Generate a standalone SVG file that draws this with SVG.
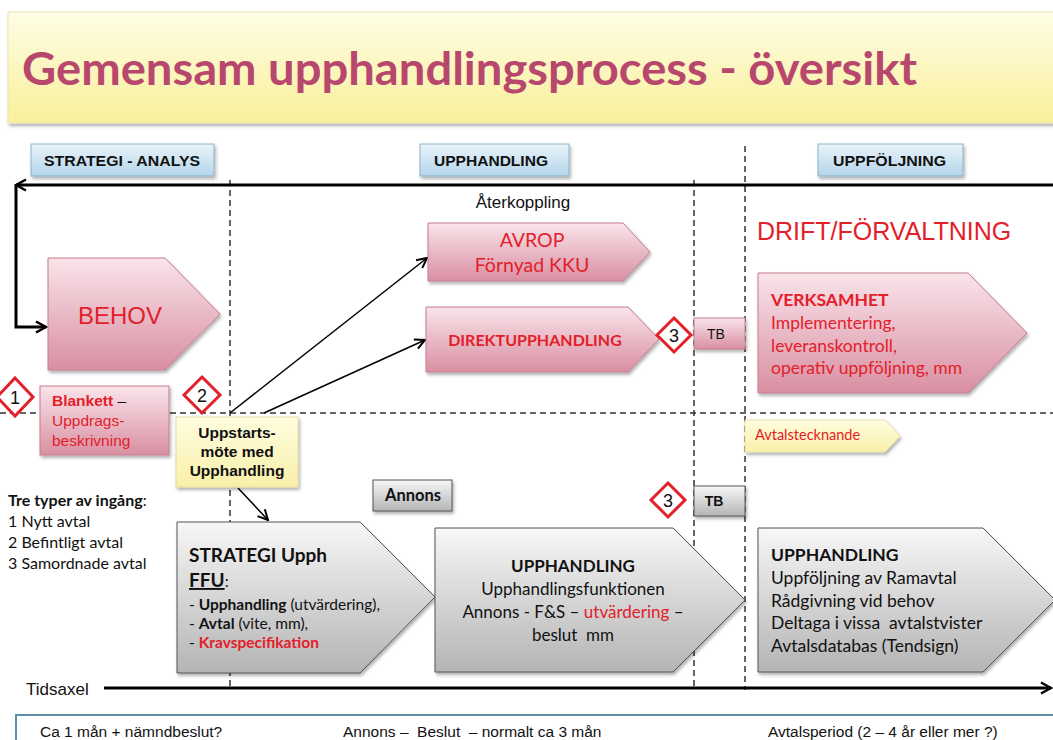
<svg xmlns="http://www.w3.org/2000/svg" width="1053" height="740" viewBox="0 0 1053 740">
<defs>
<linearGradient id="gBanner" x1="0" y1="0" x2="0" y2="1"><stop offset="0" stop-color="#fefde6"/><stop offset="1" stop-color="#f9f09a"/></linearGradient>
<linearGradient id="gBlue" x1="0" y1="0" x2="0" y2="1"><stop offset="0" stop-color="#eaf4fa"/><stop offset="1" stop-color="#b3d5ea"/></linearGradient>
<linearGradient id="gPink" x1="0" y1="0" x2="0" y2="1"><stop offset="0" stop-color="#f9e4ea"/><stop offset="1" stop-color="#d98fa2"/></linearGradient>
<linearGradient id="gGray" x1="0" y1="0" x2="0" y2="1"><stop offset="0" stop-color="#f7f7f7"/><stop offset="1" stop-color="#b4b4b4"/></linearGradient>
<linearGradient id="gYel" x1="0" y1="0" x2="0" y2="1"><stop offset="0" stop-color="#fffde0"/><stop offset="1" stop-color="#f8f0a8"/></linearGradient>
<filter id="sh" x="-10%" y="-10%" width="130%" height="140%"><feDropShadow dx="1.5" dy="2.5" stdDeviation="1.5" flood-color="#000" flood-opacity="0.3"/></filter>
<marker id="chev" viewBox="0 0 12 12" refX="11" refY="6" markerWidth="12" markerHeight="12" markerUnits="userSpaceOnUse" orient="auto"><path d="M1,1 L11,6 L1,11" fill="none" stroke="#000" stroke-width="2"/></marker>
<marker id="chevB" viewBox="0 0 14 14" refX="12" refY="7" markerWidth="14" markerHeight="14" markerUnits="userSpaceOnUse" orient="auto"><path d="M2,1.5 L12,7 L2,12.5" fill="none" stroke="#000" stroke-width="2.5"/></marker>
</defs>
<style>
.cal{font-family:Lato,"Open Sans","Noto Sans",sans-serif}
.ar{font-family:"Liberation Sans",Arial,sans-serif}
.red{fill:#e3202a}
.b{font-weight:bold}
.pre{white-space:pre}
.pink{fill:url(#gPink);stroke:#c57d8e;stroke-width:1}
.gray{fill:url(#gGray);stroke:#555;stroke-width:1}
.blue{fill:url(#gBlue);stroke:#8cb3c9;stroke-width:1}
.dash{stroke:#333;stroke-width:1.5;stroke-dasharray:6 4;fill:none}
.conn{stroke:#000;fill:none}
.dia{fill:#fff;stroke:#e3202a;stroke-width:3}
.hd{font-family:"Liberation Sans",Arial,sans-serif;font-weight:bold;font-size:14px;fill:#111}
</style>

<g id="banner">
<rect x="8" y="12" width="1050" height="111" fill="url(#gBanner)" stroke="#eee6b0" filter="url(#sh)"/>
<text x="22" y="85" class="cal b" font-size="45" fill="#b8476e" textLength="895" lengthAdjust="spacingAndGlyphs">Gemensam upphandlingsprocess - översikt</text>
</g>

<g id="headers">
<g id="h-strategi"><rect x="31" y="144" width="183" height="32" class="blue" filter="url(#sh)"/><text x="44" y="166" class="hd" textLength="156" lengthAdjust="spacingAndGlyphs">STRATEGI - ANALYS</text></g>
<g id="h-upphandling"><rect x="420" y="144" width="149" height="32" class="blue" filter="url(#sh)"/><text x="434" y="166" class="hd" textLength="114" lengthAdjust="spacingAndGlyphs">UPPHANDLING</text></g>
<g id="h-uppfoljning"><rect x="818" y="144" width="145" height="32" class="blue" filter="url(#sh)"/><text x="833" y="166" class="hd" textLength="113" lengthAdjust="spacingAndGlyphs">UPPFÖLJNING</text></g>
</g>

<g id="gridlines">
<line x1="230" y1="180" x2="230" y2="690" class="dash"/>
<line x1="694" y1="180" x2="694" y2="690" class="dash"/>
<line x1="745" y1="146" x2="745" y2="690" class="dash"/>
<line x1="0" y1="413" x2="1053" y2="413" class="dash"/>
</g>

<g id="connectors">
<line x1="1053" y1="185" x2="16" y2="185" stroke="#000" stroke-width="3" marker-end="url(#chevB)"/>
<polyline points="16,186 16,327 46,327" stroke="#000" stroke-width="3" fill="none" marker-end="url(#chevB)"/>
<line x1="230" y1="413" x2="427" y2="258" class="conn" stroke-width="1.5" marker-end="url(#chev)"/>
<line x1="264" y1="413" x2="425" y2="340" class="conn" stroke-width="1.5" marker-end="url(#chev)"/>
<line x1="238" y1="488" x2="268" y2="520" class="conn" stroke-width="1.5" marker-end="url(#chev)"/>
<line x1="104" y1="688" x2="1051" y2="688" stroke="#000" stroke-width="3" marker-end="url(#chevB)"/>
</g>

<text x="523" y="208" class="ar" font-size="17" text-anchor="middle" fill="#111">Återkoppling</text>

<g id="behov">
<path d="M48,258 H165 L220,314 L165,370 H48 Z" class="pink" filter="url(#sh)"/>
<text x="120" y="324" class="ar red" font-size="24" text-anchor="middle">BEHOV</text>
</g>

<g id="avrop">
<path d="M428,223 H623 L650,252 L623,281 H428 Z" class="pink" filter="url(#sh)"/>
<text x="532" y="247" class="cal red" font-size="19.5" text-anchor="middle">AVROP</text>
<text x="532" y="272" class="cal red" font-size="19.5" text-anchor="middle">Förnyad KKU</text>
</g>

<g id="direkt">
<path d="M426,307 H628 L659,339 L628,372 H426 Z" class="pink" filter="url(#sh)"/>
<text x="535" y="346" class="cal red b" font-size="16" text-anchor="middle">DIREKTUPPHANDLING</text>
</g>

<g id="dia3a"><path d="M674,318 L691,335 L674,352 L657,335 Z" class="dia"/><text x="674" y="342" class="ar" font-size="18" text-anchor="middle" fill="#111">3</text></g>
<g id="tb1"><rect x="694" y="318" width="51" height="31" class="pink" filter="url(#sh)"/><text x="716" y="339" class="ar" font-size="14" text-anchor="middle" fill="#111">TB</text></g>

<g id="drift"><text x="757" y="240" class="ar red" font-size="25">DRIFT/FÖRVALTNING</text></g>

<g id="verksamhet">
<path d="M758,273 H968 L1027,333 L968,393 H758 Z" class="pink" filter="url(#sh)"/>
<text x="771" y="306" class="cal red b" font-size="17.5">VERKSAMHET</text>
<text x="771" y="329" class="cal red" font-size="17.5">Implementering,</text>
<text x="771" y="352" class="cal red" font-size="17.5">leveranskontroll,</text>
<text x="771" y="374" class="cal red" font-size="17.5">operativ uppföljning, mm</text>
</g>

<g id="avtalstecknande">
<path d="M745,420 H885 L900,436 L885,452 H745 Z" fill="url(#gYel)" stroke="#ece4a8" filter="url(#sh)"/>
<text x="755" y="440" class="cal red" font-size="14.5">Avtalstecknande</text>
</g>

<g id="dia1"><path d="M15,378 L33,397 L15,416 L-3,397 Z" class="dia"/><text x="15" y="404" class="ar" font-size="18" text-anchor="middle" fill="#111">1</text></g>
<g id="dia2"><path d="M202,377 L220,395 L202,413 L184,395 Z" class="dia"/><text x="202" y="402" class="ar" font-size="18" text-anchor="middle" fill="#111">2</text></g>

<g id="blankett">
<rect x="40" y="386" width="129" height="69" class="pink" filter="url(#sh)"/>
<text x="52" y="406" class="ar" font-size="15.5"><tspan class="red b">Blankett</tspan><tspan fill="#111"> –</tspan></text>
<text x="52" y="426" class="ar red" font-size="15.5">Uppdrags-</text>
<text x="52" y="446" class="ar red" font-size="15.5">beskrivning</text>
</g>

<g id="uppstart">
<rect x="176" y="417" width="122" height="70" fill="url(#gYel)" stroke="#e6dc9c" filter="url(#sh)"/>
<text x="237" y="438" class="ar b" font-size="15.5" text-anchor="middle" fill="#111">Uppstarts-</text>
<text x="237" y="457" class="ar b" font-size="15.5" text-anchor="middle" fill="#111">möte med</text>
<text x="237" y="476" class="ar b" font-size="15.5" text-anchor="middle" fill="#111">Upphandling</text>
</g>

<g id="tretyper">
<text x="8" y="506" class="cal b" font-size="16" fill="#111">Tre typer av ingång<tspan font-weight="normal">:</tspan></text>
<text x="8" y="527" class="cal" font-size="16" fill="#111">1 Nytt avtal</text>
<text x="8" y="548" class="cal" font-size="16" fill="#111">2 Befintligt avtal</text>
<text x="8" y="569" class="cal" font-size="16" fill="#111">3 Samordnade avtal</text>
</g>

<g id="annons"><rect x="373" y="480" width="79" height="31" class="gray" filter="url(#sh)"/><text x="413" y="501" class="cal b" font-size="16.5" text-anchor="middle" fill="#111">Annons</text></g>

<g id="dia3b"><path d="M668,483 L685,500 L668,517 L651,500 Z" class="dia"/><text x="668" y="507" class="ar" font-size="18" text-anchor="middle" fill="#111">3</text></g>
<g id="tb2"><rect x="694" y="486" width="51" height="30" class="gray" filter="url(#sh)"/><text x="714" y="506" class="ar b" font-size="14" text-anchor="middle" fill="#111">TB</text></g>

<g id="strategi">
<path d="M177,522 H360 L435,597 L360,673 H177 Z" class="gray" filter="url(#sh)"/>
<text x="189" y="562" class="cal b" font-size="19" fill="#111">STRATEGI Upph</text>
<text x="189" y="587" class="cal b" font-size="19" fill="#111"><tspan text-decoration="underline">FFU</tspan><tspan font-weight="normal" font-size="16">:</tspan></text>
<text x="189" y="610" class="cal" font-size="15.5" fill="#111">- <tspan class="b">Upphandling</tspan> (utvärdering),</text>
<text x="189" y="629" class="cal" font-size="15.5" fill="#111">- <tspan class="b">Avtal</tspan> (vite, mm),</text>
<text x="189" y="648" class="cal" font-size="15.5" fill="#111">- <tspan class="b red">Kravspecifikation</tspan></text>
</g>

<g id="upphandling-mid">
<path d="M435,528 H673 L745,600 L673,672 H435 Z" class="gray" filter="url(#sh)"/>
<text x="573" y="572" class="cal b" font-size="17" text-anchor="middle" fill="#111">UPPHANDLING</text>
<text x="573" y="595" class="cal" font-size="17" text-anchor="middle" fill="#111">Upphandlingsfunktionen</text>
<text x="573" y="618" class="cal" font-size="17" text-anchor="middle" fill="#111">Annons - F&amp;S – <tspan class="red">utvärdering</tspan> –</text>
<text x="573" y="641" class="cal pre" font-size="17" text-anchor="middle" fill="#111">beslut  mm</text>
</g>

<g id="upphandling-right">
<path d="M758,528 H983 L1055,600 L983,672 H758 Z" class="gray" filter="url(#sh)"/>
<text x="771" y="561" class="cal b" font-size="17.5" fill="#111">UPPHANDLING</text>
<text x="771" y="584" class="cal" font-size="17.5" fill="#111">Uppföljning av Ramavtal</text>
<text x="771" y="607" class="cal" font-size="17.5" fill="#111">Rådgivning vid behov</text>
<text x="771" y="629" class="cal pre" font-size="17.5" fill="#111">Deltaga i vissa  avtalstvister</text>
<text x="771" y="652" class="cal" font-size="17.5" fill="#111">Avtalsdatabas (Tendsign)</text>
</g>

<g id="tidsaxel"><text x="26" y="695" class="ar" font-size="17" fill="#111">Tidsaxel</text></g>

<g id="bottom">
<rect x="16" y="715" width="1045" height="40" fill="#fff" stroke="#5c8fa8" stroke-width="2"/>
<text x="40" y="737" class="ar" font-size="15.5" fill="#111">Ca 1 mån + nämndbeslut?</text>
<text x="343" y="737" class="ar pre" font-size="15.5" fill="#111">Annons –  Beslut  – normalt ca 3 mån</text>
<text x="768" y="737" class="ar" font-size="15.5" fill="#111">Avtalsperiod (2 – 4 år eller mer ?)</text>
</g>
</svg>
